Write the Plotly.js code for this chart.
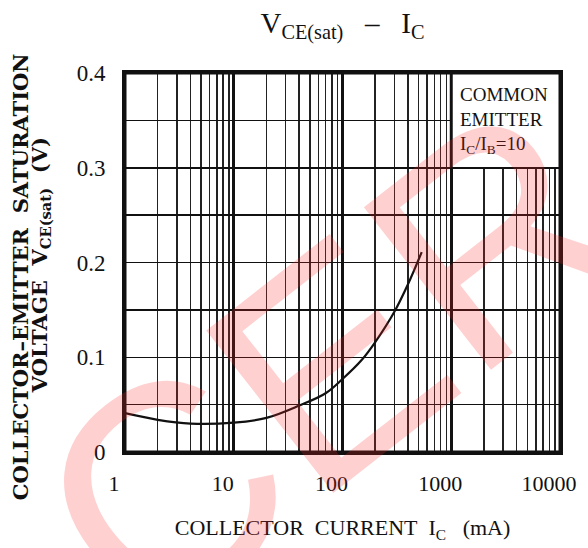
<!DOCTYPE html>
<html>
<head>
<meta charset="utf-8">
<script src="https://cdn.plot.ly/plotly-3.0.1.min.js"></script>
<style>html,body{margin:0;padding:0;background:#fff;}#chart{width:588px;height:548px;}</style>
</head>
<body>
<div id="chart"></div>
<script>
// Collector current Ic (mA) and saturation voltage Vce(sat) (V)
var icValues = [1, 2, 4, 10, 20, 40, 70, 100, 150, 200, 300, 400, 535];
var vceValues = [0.041, 0.034, 0.030, 0.031, 0.036, 0.049, 0.062, 0.077, 0.097, 0.116, 0.148, 0.177, 0.211];
var xTickVals = [1, 10, 100, 1000, 10000];
var xTickText = ["1", "10", "100", "1000", "10000"];
var yTickVals = [0, 0.1, 0.2, 0.3, 0.4];
var yTickText = ["0", "0.1", "0.2", "0.3", "0.4"];
var chartTitle = "V<sub>CE(sat)</sub>&nbsp;&nbsp;&nbsp;–&nbsp;&nbsp;&nbsp;I<sub>C</sub>";
var xTitle = "COLLECTOR&nbsp;&nbsp;CURRENT&nbsp;&nbsp;I<sub>C</sub>&nbsp;&nbsp;&nbsp;(mA)";
var yTitleLine1 = "COLLECTOR–EMITTER&nbsp;&nbsp;SATURATION";
var yTitleLine2 = "VOLTAGE&nbsp;&nbsp;V<sub>CE(sat)</sub>&nbsp;&nbsp;(V)";
var noteLines = ["COMMON", "EMITTER", "I<sub>C</sub>/I<sub>B</sub>=10"];
var watermarkText = "CER";

var serif = "Liberation Serif, Times New Roman, serif";
var boldSerif = {family: "DejaVu Serif, serif", size: 21, color: "#111", weight: "bold"};

var trace = {
  x: icValues, y: vceValues, type: "scatter", mode: "lines",
  line: {color: "#111", width: 2.2, shape: "spline", smoothing: 1},
  hoverinfo: "skip", showlegend: false
};

var layout = {
  width: 588, height: 548,
  margin: {l: 125, r: 28, t: 73, b: 96},
  paper_bgcolor: "#fff", plot_bgcolor: "#fff",
  title: {text: chartTitle, font: {family: serif, size: 29, color: "#111"},
          x: 0.5, xref: "paper", xanchor: "center", y: 0.958, yref: "container", yanchor: "middle"},
  xaxis: {
    type: "log", range: [0, 4], tickvals: xTickVals, ticktext: xTickText,
    ticks: "", showline: true, mirror: true, linecolor: "#111", linewidth: 3,
    showgrid: true, gridcolor: "#111", gridwidth: 2.6,
    minor: {showgrid: true, dtick: "D1", gridcolor: "#222", gridwidth: 1.5, ticks: ""},
    tickfont: {family: serif, size: 22, color: "#111"}, ticklabelshift: -11, ticklabelstandoff: 10,
    title: {text: xTitle, font: {family: serif, size: 22, color: "#111"}, standoff: 25},
    zeroline: false, fixedrange: true
  },
  yaxis: {
    range: [0, 0.4], tickvals: yTickVals, ticktext: yTickText,
    ticks: "", showline: true, mirror: true, linecolor: "#111", linewidth: 3,
    showgrid: true, gridcolor: "#111", gridwidth: 1.5,
    minor: {showgrid: true, dtick: 0.05, gridcolor: "#111", gridwidth: 1.5, ticks: ""},
    tickfont: {family: serif, size: 23, color: "#111"}, ticklabelstandoff: 12,
    zeroline: false, fixedrange: true
  },
  shapes: [
    {type: "rect", xref: "paper", yref: "paper", x0: 0.75, x1: 1, y0: 0.75, y1: 1,
     fillcolor: "#fff", line: {color: "#111", width: 1.5}, layer: "above"},
    {type: "line", xref: "paper", yref: "paper", x0: 0.75, x1: 0.75, y0: 0.75, y1: 1,
     line: {color: "#111", width: 3}, layer: "above"},
    {type: "rect", xref: "paper", yref: "paper", x0: 0, x1: 1, y0: 0, y1: 1,
     line: {color: "#111", width: 3}, layer: "above"}
  ],
  annotations: [
    {text: yTitleLine1, xref: "paper", yref: "paper", x: -0.2414, y: 0.464,
     xanchor: "center", yanchor: "middle", textangle: -90, showarrow: false, font: boldSerif},
    {text: yTitleLine2, xref: "paper", yref: "paper", x: -0.1954, y: 0.493,
     xanchor: "center", yanchor: "middle", textangle: -90, showarrow: false, font: boldSerif},
    {text: noteLines.join("<br>"), xref: "paper", yref: "paper", x: 0.766, y: 0.975,
     xanchor: "left", yanchor: "top", align: "left", showarrow: false,
     font: {family: serif, size: 19, color: "#111"}},
    {text: watermarkText, xref: "paper", yref: "paper", x: 0.467, y: 0.23,
     xanchor: "center", yanchor: "middle", showarrow: false, textangle: -38,
     font: {family: "Liberation Sans, Arial, sans-serif", size: 300, color: "rgba(255,40,40,0.22)"}}
  ]
};

Plotly.newPlot("chart", [trace], layout, {displayModeBar: false, staticPlot: true});
</script>
</body>
</html>
